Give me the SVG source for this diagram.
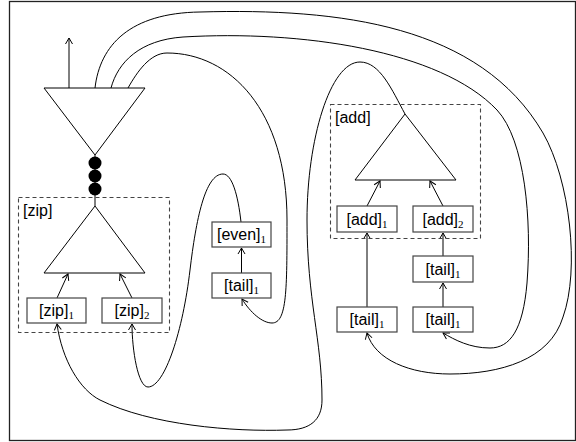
<svg xmlns="http://www.w3.org/2000/svg" width="576" height="442" viewBox="0 0 576 442">
<style>
.frame{fill:#fff;stroke:#222;stroke-width:1.3}
.tri{fill:none;stroke:#000;stroke-width:1}
.box{fill:#fff;stroke:#444;stroke-width:1.2}
.dash{fill:none;stroke:#444;stroke-width:1.1;stroke-dasharray:4,3}
.lbl{font-family:"Liberation Sans",Arial,sans-serif;font-size:16px;fill:#000}
.sub{font-family:"Liberation Serif","Times New Roman",serif;font-size:11px}
.edge{fill:none;stroke:#000;stroke-width:1}
</style>
<defs>
<marker id="ah" markerWidth="10" markerHeight="10" viewBox="-8 -5 10 10" refX="0" refY="0" orient="auto" markerUnits="userSpaceOnUse">
<path d="M-6,-3.5 L0,0 L-6,3.5" fill="none" stroke="#000" stroke-width="1"/>
</marker>
</defs>
<rect class="frame" x="9.5" y="1.5" width="566" height="439"/>

<g id="connectors">
<path class="edge" d="M69,88 L69,38" marker-end="url(#ah)"/>
<path class="edge" d="M95,155 L95,206"/>
<path class="edge" d="M57,298 L68,274" marker-end="url(#ah)"/>
<path class="edge" d="M132,298 L120,274" marker-end="url(#ah)"/>
<path class="edge" d="M241.5,273 L241.5,248" marker-end="url(#ah)"/>
<path class="edge" d="M367,206 L380,181" marker-end="url(#ah)"/>
<path class="edge" d="M443,206 L430,181" marker-end="url(#ah)"/>
<path class="edge" d="M367,307 L367,233" marker-end="url(#ah)"/>
<path class="edge" d="M443,307 L443,283" marker-end="url(#ah)"/>
<path class="edge" d="M443,256 L443,233" marker-end="url(#ah)"/>
<path class="edge" d="M95,88 C100,45 130,13 200,12 C340,8 480,25 543,133 C570,180 580,270 563,317 C550,360 500,374 450,374 C410,374 375,360 367,333" marker-end="url(#ah)"/>
<path class="edge" d="M111,88 C118,62 140,40 183,37 C300,30 440,50 497,110 C525,140 532,220 527,283 C523,330 510,348 490,348 C470,348 455,340 443,333" marker-end="url(#ah)"/>
<path class="edge" d="M128,88 C137,72 150,53 167,53 C230,53 287,110 287,220 C287,290 287,323 272,323 C262,323 250,312 242,299" marker-end="url(#ah)"/>
<path class="edge" d="M241,222 C238,195 232,174 223,174 C205,174 196,220 190,270 C183,330 165,387 148,387 C138,387 132,350 132,324" marker-end="url(#ah)"/>
<path class="edge" d="M405,114 C392,90 380,62 360,62 C330,62 307,140 307,220 C307,300 322,340 322,400 C322,420 310,430 287,430 C233,432 150,425 100,400 C80,390 62,360 57,324" marker-end="url(#ah)"/>
</g>

<g id="out">
<polygon class="tri" points="44,88 145,88 95,155"/>
</g>
<g id="seq">
<circle cx="95" cy="163" r="6.5" fill="#000"/>
<circle cx="95" cy="176" r="6.5" fill="#000"/>
<circle cx="95" cy="189" r="6.5" fill="#000"/>
</g>

<g id="zip">
<rect class="dash" x="18.5" y="197.5" width="151" height="135"/>
<text class="lbl" x="23" y="216">[zip]</text>
<polygon class="tri" points="95,206 44,273 145,273"/>
</g>
<g id="zip1">
<rect class="box" x="27" y="298" width="59" height="25"/>
<text class="lbl" x="56.5" y="316" text-anchor="middle">[zip]<tspan class="sub" dy="3">1</tspan></text>
</g>
<g id="zip2">
<rect class="box" x="102" y="298" width="60" height="25"/>
<text class="lbl" x="132" y="316" text-anchor="middle">[zip]<tspan class="sub" dy="3">2</tspan></text>
</g>

<g id="even1">
<rect class="box" x="212" y="222" width="59" height="25"/>
<text class="lbl" x="241.5" y="240" text-anchor="middle">[even]<tspan class="sub" dy="3">1</tspan></text>
</g>
<g id="tailA">
<rect class="box" x="212" y="273" width="59" height="25"/>
<text class="lbl" x="241.5" y="291" text-anchor="middle">[tail]<tspan class="sub" dy="3">1</tspan></text>
</g>

<g id="add">
<rect class="dash" x="330.5" y="104.5" width="150" height="134"/>
<text class="lbl" x="335" y="123">[add]</text>
<polygon class="tri" points="405,114 355,180 456,180"/>
</g>
<g id="add1">
<rect class="box" x="337" y="206" width="60" height="26"/>
<text class="lbl" x="367" y="224.5" text-anchor="middle">[add]<tspan class="sub" dy="3">1</tspan></text>
</g>
<g id="add2">
<rect class="box" x="413" y="206" width="60" height="26"/>
<text class="lbl" x="443" y="224.5" text-anchor="middle">[add]<tspan class="sub" dy="3">2</tspan></text>
</g>
<g id="tailB">
<rect class="box" x="413" y="256" width="60" height="26"/>
<text class="lbl" x="443" y="274.5" text-anchor="middle">[tail]<tspan class="sub" dy="3">1</tspan></text>
</g>
<g id="tailC">
<rect class="box" x="337" y="307" width="60" height="25"/>
<text class="lbl" x="367" y="325" text-anchor="middle">[tail]<tspan class="sub" dy="3">1</tspan></text>
</g>
<g id="tailD">
<rect class="box" x="413" y="307" width="60" height="25"/>
<text class="lbl" x="443" y="325" text-anchor="middle">[tail]<tspan class="sub" dy="3">1</tspan></text>
</g>
</svg>
